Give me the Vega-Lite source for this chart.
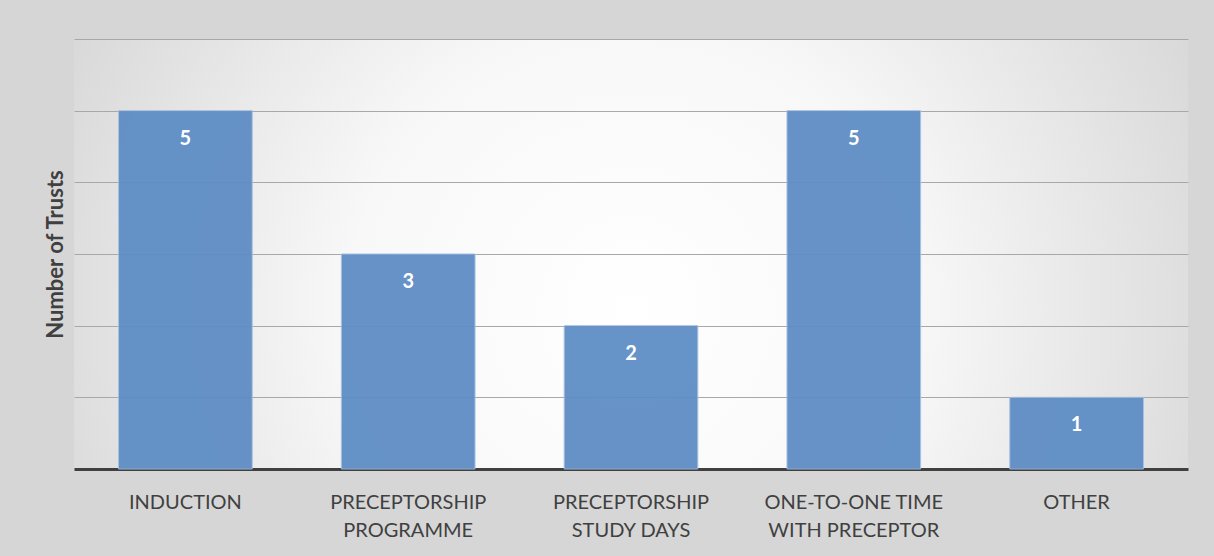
{
  "$schema": "https://vega.github.io/schema/vega-lite/v6.json",
  "width": 1114,
  "height": 430,
  "autosize": {"type": "none"},
  "padding": {"left": 74, "top": 39, "right": 26, "bottom": 87},
  "background": "#d6d6d6",
  "data": {
    "values": [
      {"category": "INDUCTION", "trusts": 5},
      {"category": "PRECEPTORSHIP|PROGRAMME", "trusts": 3},
      {"category": "PRECEPTORSHIP|STUDY DAYS", "trusts": 2},
      {"category": "ONE-TO-ONE TIME|WITH PRECEPTOR", "trusts": 5},
      {"category": "OTHER", "trusts": 1}
    ]
  },
  "encoding": {
    "x": {
      "field": "category",
      "type": "nominal",
      "sort": null,
      "scale": {"paddingInner": 0.4, "paddingOuter": 0.2},
      "axis": {
        "title": null,
        "labelAngle": 0,
        "labelExpr": "split(datum.label, '|')",
        "labelFont": "Lato",
        "labelFontSize": 20,
        "labelColor": "#404040",
        "labelLineHeight": 28,
        "labelPadding": 23,
        "labelLimit": 400,
        "ticks": false,
        "domainColor": "#404040",
        "domainWidth": 3
      }
    },
    "y": {
      "field": "trusts",
      "type": "quantitative",
      "scale": {"domain": [0, 6], "nice": false},
      "axis": {
        "title": "Number of Trusts",
        "titleFont": "Lato",
        "titleFontSize": 22,
        "titleFontWeight": "bold",
        "titleColor": "#404040",
        "titlePadding": 7,
        "labels": false,
        "ticks": false,
        "domain": false,
        "grid": true,
        "gridColor": "#a8a8a8",
        "gridWidth": 1,
        "values": [1, 2, 3, 4, 5, 6]
      }
    }
  },
  "layer": [
    {
      "mark": {"type": "bar", "color": "#5b8bc4", "opacity": 0.93, "stroke": "#a3bfe0", "strokeWidth": 1}
    },
    {
      "mark": {"type": "text", "color": "#ffffff", "font": "Lato", "fontWeight": "bold", "fontSize": 20, "baseline": "middle", "dy": 28},
      "encoding": {"text": {"field": "trusts", "type": "quantitative"}}
    }
  ],
  "config": {
    "view": {
      "stroke": null,
      "fill": {
        "gradient": "radial",
        "x1": 0.5, "y1": 0.55, "r1": 0,
        "x2": 0.5, "y2": 0.55, "r2": 0.72,
        "stops": [
          {"offset": 0, "color": "#ffffff"},
          {"offset": 0.35, "color": "#f8f8f8"},
          {"offset": 1, "color": "#c8c8c8"}
        ]
      }
    }
  }
}
